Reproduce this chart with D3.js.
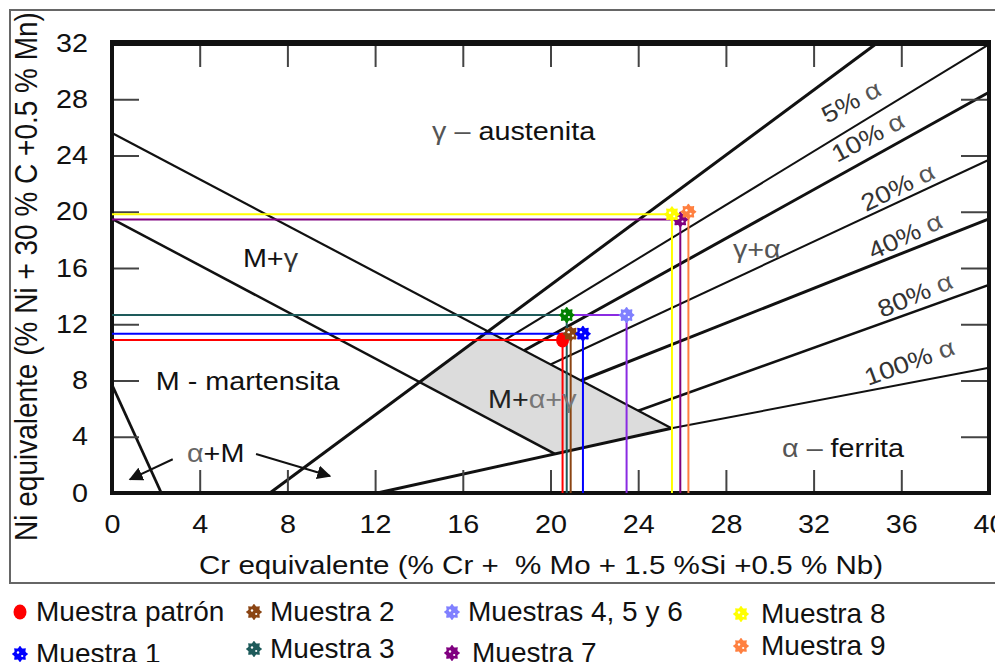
<!DOCTYPE html>
<html>
<head>
<meta charset="utf-8">
<script src="https://cdn.jsdelivr.net/npm/d3@7"></script>
<style>
body { margin: 0; background: #fff; }
svg { display: block; font-family: "Liberation Sans", Arial, sans-serif; }
text { white-space: pre; }
</style>
</head>
<body>
<svg id="chart" width="995" height="662"></svg>
<script>
// ejes
const xTicks = [0, 4, 8, 12, 16, 20, 24, 28, 32, 36, 40];
const yTicks = [0, 4, 8, 12, 16, 20, 24, 28, 32];

// muestras (Cr eq, Ni eq)
const sampleNames = ["Muestra patrón", "Muestra 1", "Muestra 2", "Muestra 3",
    "Muestras 4, 5 y 6", "Muestra 7", "Muestra 8", "Muestra 9"];
const crEq = [20.55, 21.48, 20.92, 20.74, 23.47, 25.92, 25.54, 26.29];
const niEq = [10.88, 11.33, 11.33, 12.65, 12.65, 19.45, 19.82, 20.0];
const hasHLine = [true, true, false, true, true, true, true, false];
const lineColors = ["#ff0000", "#0000ff", "#8b4513", "#1e5b5b", "#8a2be2", "#800080", "#ffff00", "#ff8040"];
const markerColors = ["#ff0000", "#0000ff", "#8b4513", "#008000", "#8080ff", "#800080", "#ffff00", "#ff8040"];
const legendColors = ["#ff0000", "#0000ff", "#8b4513", "#1e5b5b", "#8080ff", "#800080", "#ffff00", "#ff8040"];

// lineas del diagrama de Schaeffler
const lineA = [[0, 25.6], [25.52, 4.6]];
const lineB = [[0, 19.5], [20.2, 2.78]];
const lineC = [[7.2, 0], [34.9, 32]];
const lineD = [[12.1, 0], [25.52, 4.6]];
const lineAM = [[0, 7.7], [2.25, 0]];
const mixZone = [[14.03, 7.89], [17.15, 11.49], [25.52, 4.6], [20.2, 2.78]];

// lineas de % ferrita
const ferritePct = ["5%", "10%", "20%", "40%", "80%", "100%"];
const ferriteStart = [[17.9, 10.87], [18.8, 10.13], [20.0, 9.14], [21.4, 8.0], [24.0, 5.85], [25.52, 4.6]];
const ferriteEnd = [[40, 31.9], [40, 28.5], [40, 23.7], [40, 19.5], [40, 14.8], [40, 8.9]];
const ferriteLabelPos = [[32.61, 26.24], [33.07, 23.47], [34.39, 19.98], [34.71, 16.57], [35.12, 12.44], [34.48, 7.61]];
const ferriteLabelAngle = [-28, -28, -26, -25, -23, -20];

const svg = d3.select("#chart");
const x = d3.scaleLinear().domain([0, 40]).range([112, 989]);
const y = d3.scaleLinear().domain([0, 32]).range([493, 43]);
const SX = 1.15; // el texto del original es algo ancho
const line = d3.line().x(d => x(d[0])).y(d => y(d[1]));

svg.append("rect").attr("width", 995).attr("height", 662).attr("fill", "#fff");
svg.append("rect").attr("x", 10).attr("y", 10).attr("width", 1000).attr("height", 573)
    .attr("fill", "none").attr("stroke", "#666").attr("stroke-width", 2);

// zona M+a+g
svg.append("path").datum(mixZone)
    .attr("d", line.curve(d3.curveLinearClosed))
    .attr("fill", "#dcdcdc");
line.curve(d3.curveLinear);

function drawLine(pts, w) {
    svg.append("path").datum(pts)
        .attr("d", line)
        .attr("fill", "none")
        .attr("stroke", "#111")
        .attr("stroke-width", w);
}
drawLine(lineA, 2.2);
drawLine(lineB, 2.5);
drawLine(lineC, 3);
drawLine(lineD, 3);
drawLine(lineAM, 2.8);
const ferriteWidths = [2, 3, 2, 3, 2.6, 2];
ferritePct.forEach((p, i) => drawLine([ferriteStart[i], ferriteEnd[i]], ferriteWidths[i]));

// flechas a+M
const defs = svg.append("defs");
defs.append("marker").attr("id", "arrow")
    .attr("viewBox", "0 0 10 10").attr("refX", 9).attr("refY", 5)
    .attr("markerWidth", 7).attr("markerHeight", 7).attr("orient", "auto")
    .append("path").attr("d", "M0,0 L10,5 L0,10 z").attr("fill", "#111");
const arrows = [[[2.77, 2.40], [0.82, 0.97]], [[6.57, 2.77], [9.94, 1.21]]];
arrows.forEach(a => {
    svg.append("path").datum(a).attr("d", line)
        .attr("stroke", "#111").attr("stroke-width", 2)
        .attr("marker-end", "url(#arrow)");
});

// ejes
function styleAxis(g) {
    g.attr("font-family", null).attr("font-size", 25);
    g.select(".domain").remove();
    g.selectAll(".tick line").attr("stroke", "#444").attr("stroke-width", 2);
    g.selectAll(".tick text").attr("fill", "#111").attr("transform", `scale(${SX},1)`);
}
svg.append("g").attr("transform", `translate(0,${y(0)})`)
    .call(d3.axisBottom(x).tickValues(xTicks).tickSize(-23).tickPadding(22))
    .call(styleAxis);
svg.append("g").attr("transform", `translate(0,${y(32)})`)
    .call(d3.axisTop(x).tickValues(xTicks).tickSize(-24).tickFormat(""))
    .call(styleAxis);
svg.append("g").attr("transform", `translate(${x(0)},0)`)
    .call(d3.axisLeft(y).tickValues(yTicks).tickSize(-27).tickPadding(24 / SX))
    .call(styleAxis);
svg.append("g").attr("transform", `translate(${x(40)},0)`)
    .call(d3.axisRight(y).tickValues(yTicks).tickSize(-28).tickFormat(""))
    .call(styleAxis);

// marco
const frame = svg.append("g").attr("stroke", "#111");
frame.append("line").attr("x1", x(0)).attr("x2", x(40)).attr("y1", y(32)).attr("y2", y(32)).attr("stroke-width", 6);
frame.append("line").attr("x1", x(0)).attr("x2", x(40)).attr("y1", y(0)).attr("y2", y(0)).attr("stroke-width", 4);
frame.append("line").attr("x1", x(0)).attr("x2", x(0)).attr("y1", y(32) - 3).attr("y2", y(0) + 2).attr("stroke-width", 4);
frame.append("line").attr("x1", x(40)).attr("x2", x(40)).attr("y1", y(32) - 3).attr("y2", y(0) + 2).attr("stroke-width", 4);

// lineas guia de las muestras
const order = d3.range(sampleNames.length).sort((a, b) => crEq[b] - crEq[a]);
order.forEach(i => {
    if (hasHLine[i]) {
        svg.append("path").datum([[0, niEq[i]], [crEq[i], niEq[i]]])
            .attr("d", line).attr("stroke", lineColors[i]).attr("stroke-width", 2);
    }
});
order.forEach(i => {
    svg.append("path").datum([[crEq[i], niEq[i]], [crEq[i], 0]])
        .attr("d", line).attr("stroke", lineColors[i]).attr("stroke-width", 2);
});

// marcadores
const gear = d3.lineRadial().curve(d3.curveCardinalClosed)(
    d3.range(16).map(k => [k * Math.PI / 8, k % 2 ? 6 : 8]));
function marker(g, i, color) {
    if (i === 0) {
        g.append("ellipse").attr("rx", 6.5).attr("ry", 7.5).attr("fill", color);
        return;
    }
    g.append("path").attr("d", gear).attr("fill", color);
    g.append("circle").attr("cx", -2).attr("cy", -1.5).attr("r", 1.2).attr("fill", "#fff");
    g.append("circle").attr("cx", 2.2).attr("cy", 2).attr("r", 1.1).attr("fill", "#fff");
}
[0, 2, 1, 3, 4, 5, 6, 7].forEach(i => {
    const g = svg.append("g").attr("transform", `translate(${x(crEq[i])},${y(niEq[i])})`);
    marker(g, i, markerColors[i]);
});

// textos
function label(px, py, parts, size, angle) {
    const t = svg.append("text")
        .attr("transform", `translate(${px},${py}) rotate(${angle || 0}) scale(${SX},1)`)
        .attr("font-size", size);
    parts.forEach(p => t.append("tspan").attr("fill", p[1]).text(p[0]));
    return t;
}
const regionLabels = [
    [[14.6, 25.1], [["γ – ", "#555"], ["austenita", "#111"]]],
    [[5.97, 16.07], [["M+", "#111"], ["γ", "#333"]]],
    [[2.0, 7.32], [["M - martensita", "#111"]]],
    [[3.42, 2.2], [["α", "#666"], ["+M", "#111"]]],
    [[17.15, 6.04], [["M+", "#222"], ["α+γ", "#777"]]],
    [[28.32, 16.71], [["γ+α", "#555"]]],
    [[30.56, 2.56], [["α – ", "#555"], ["ferrita", "#111"]]]
];
regionLabels.forEach(r => label(x(r[0][0]), y(r[0][1]), r[1], 25, 0));
ferritePct.forEach((p, i) => {
    label(x(ferriteLabelPos[i][0]), y(ferriteLabelPos[i][1]),
        [[p, "#333"], [" α", "#555"]], 24, ferriteLabelAngle[i]);
});

// titulos de ejes
svg.append("text")
    .attr("transform", `translate(199,574) scale(${SX},1)`)
    .attr("font-size", 25.7).attr("fill", "#111")
    .text("Cr equivalente (% Cr +  % Mo + 1.5 %Si +0.5 % Nb)");
svg.append("text")
    .attr("transform", `translate(37,276.5) rotate(-90) scale(1,${SX})`)
    .attr("font-size", 28).attr("fill", "#111").attr("text-anchor", "middle")
    .text("Ni equivalente (% Ni + 30 % C +0.5 % Mn)");

// leyenda
const legendX = [20, 254, 452, 741];
const legendRow2 = [663, 658, 662, 655];
sampleNames.forEach((name, i) => {
    const col = Math.floor(i / 2), row = i % 2;
    const base = row === 0 ? (col === 3 ? 623 : 621) : legendRow2[col];
    const g = svg.append("g").attr("transform", `translate(${legendX[col]},${base - 9})`);
    marker(g, i, legendColors[i]);
    svg.append("text")
        .attr("x", legendX[col] + (col === 3 || (col === 2 && row === 1) ? 20 : 16))
        .attr("y", base)
        .attr("font-size", 28).attr("fill", "#111")
        .text(name);
});
</script>
</body>
</html>
